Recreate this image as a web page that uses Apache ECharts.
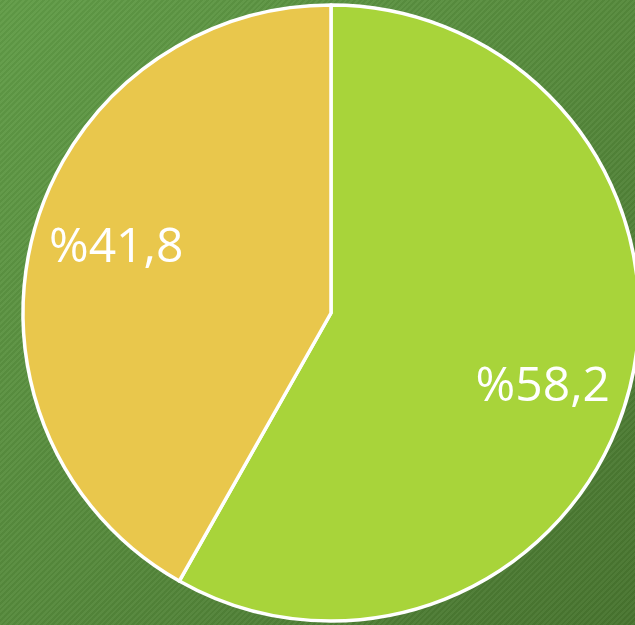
<!DOCTYPE html>
<html>
<head>
<meta charset="utf-8">
<script src="https://cdn.jsdelivr.net/npm/echarts@6/dist/echarts.min.js"></script>
<style>
  html, body { margin: 0; padding: 0; }
  body {
    width: 635px; height: 625px; overflow: hidden;
    background:
      repeating-linear-gradient(135deg, rgba(255,255,255,0.035) 0px, rgba(255,255,255,0.035) 2px, rgba(0,0,0,0.035) 2px, rgba(0,0,0,0.035) 4px),
      linear-gradient(135deg, #619c47 0%, #568a3c 50%, #48742f 100%);
  }
  #share-pie { width: 635px; height: 625px; }
</style>
</head>
<body>
<div id="share-pie"></div>
<script>
  // dilimler
  var names = ['B', 'A']
  var values = [58.2, 41.8]
  var colors = ['#a8d43a', '#e9c74c']
  var labelOffsets = [[60, 34], [-63, -25]]

  var myChart = echarts.init(document.getElementById('share-pie'))
  var option = {
    backgroundColor: 'transparent',
    series: [
      {
        type: 'pie',
        center: [331, 313],
        radius: [0, 308],
        startAngle: 90,
        clockwise: true,
        silent: true,
        avoidLabelOverlap: false,
        itemStyle: {
          borderColor: '#fff',
          borderWidth: 3.5
        },
        label: {
          show: true,
          position: 'inside',
          color: '#fff',
          fontFamily: 'Open Sans',
          fontSize: 48,
          formatter: function (p) {
            return '%' + String(p.value).replace('.', ',')
          }
        },
        labelLine: { show: false },
        data: values.map(function (v, i) {
          return {
            value: v,
            name: names[i],
            itemStyle: { color: colors[i] },
            label: { offset: labelOffsets[i] }
          }
        })
      }
    ]
  }
  myChart.setOption(option)
</script>
</body>
</html>
